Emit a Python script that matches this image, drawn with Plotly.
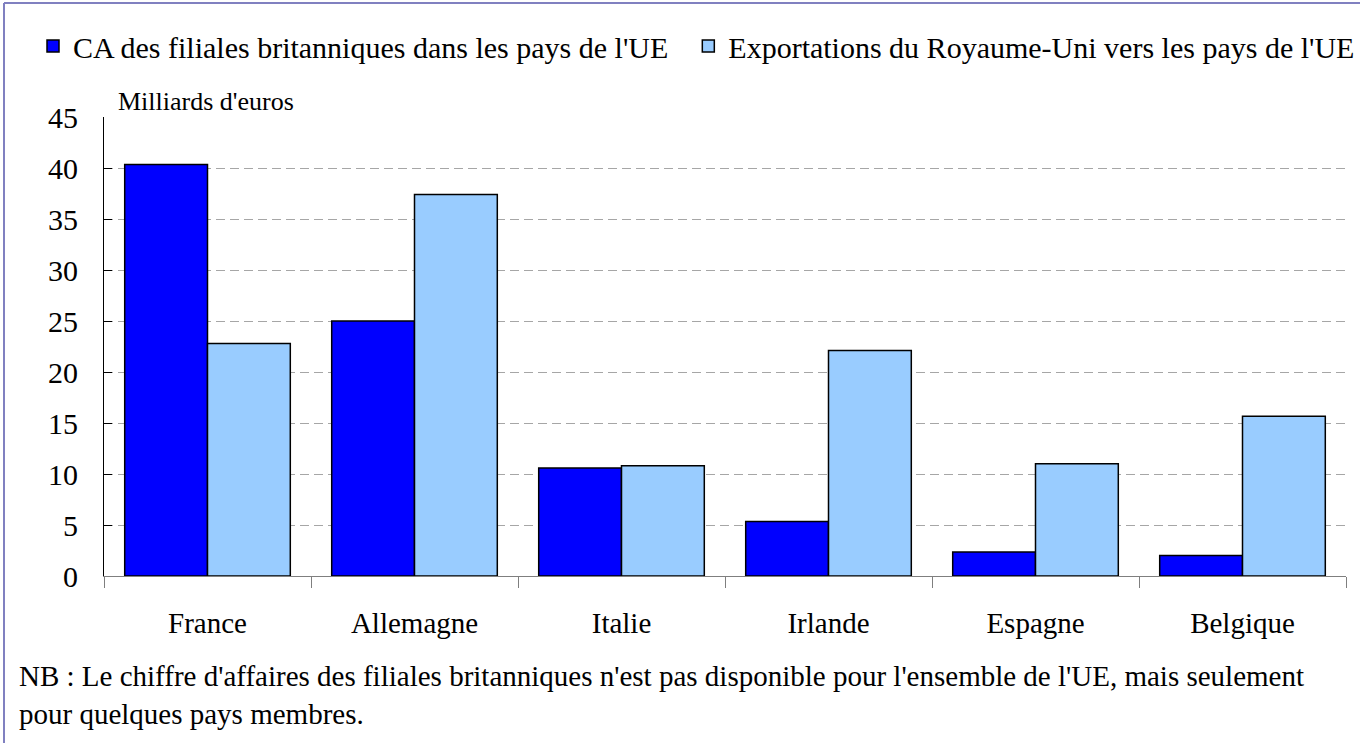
import plotly.graph_objects as go

pays = ['France', 'Allemagne', 'Italie', 'Irlande', 'Espagne', 'Belgique']
ca_filiales = [40.35, 25.0, 10.6, 5.35, 2.35, 2.0]
exportations = [22.8, 37.4, 10.8, 22.1, 11.0, 15.65]

W, H = 1360, 743
ML, MR, MT, MB = 104, 14, 117, 167
PW, PH = W - ML - MR, H - MT - MB

def px_x(x):
    return (x - ML) / PW

def px_y(y):
    return (H - MB - y) / PH

FONT = 'Liberation Serif, Times New Roman, serif'

fig = go.Figure()
fig.add_trace(go.Bar(x=pays, y=ca_filiales, name="CA des filiales britanniques dans les pays de l'UE\u00a0\u00a0",
                     marker=dict(color='#0000FF', line=dict(color='black', width=1.5))))
fig.add_trace(go.Bar(x=pays, y=exportations, name="Exportations du Royaume-Uni vers les pays de l'UE",
                     marker=dict(color='#99CCFF', line=dict(color='black', width=1.5))))

fig.update_layout(
    width=W, height=H,
    margin=dict(l=ML, r=MR, t=MT, b=MB, autoexpand=False),
    paper_bgcolor='white', plot_bgcolor='white',
    font=dict(family=FONT, size=29, color='black'),
    barmode='group', bargap=0.2, bargroupgap=0,
    showlegend=True,
    legend=dict(orientation='h', x=px_x(33), xanchor='left', y=px_y(46), yanchor='middle',
                font=dict(size=30), bgcolor='rgba(0,0,0,0)'),
)

fig.update_xaxes(showline=True, linecolor='#7f7f7f', linewidth=1, automargin=False,
                 ticks='outside', ticklen=11, tickcolor='#7f7f7f', tickson='boundaries',
                 ticklabelstandoff=21, showgrid=False)
fig.update_yaxes(range=[0, 45], dtick=5, showline=True, linecolor='black', linewidth=1,
                 automargin=False, tickfont=dict(size=30),
                 ticks='inside', ticklen=8, tickcolor='black', ticklabelstandoff=19,
                 showgrid=True, gridcolor='#A6A6A6', gridwidth=1, griddash='9px,5px',
                 zeroline=False)

fig.add_annotation(text="Milliards d'euros", xref='paper', yref='paper', x=px_x(116), y=px_y(102),
                   xanchor='left', yanchor='middle', showarrow=False, font=dict(size=26))
fig.add_annotation(text="NB : Le chiffre d'affaires des filiales britanniques n'est pas disponible pour l'ensemble de l'UE, mais seulement",
                   xref='paper', yref='paper', x=px_x(17), y=px_y(676),
                   xanchor='left', yanchor='middle', showarrow=False, font=dict(size=29))
fig.add_annotation(text="pour quelques pays membres.",
                   xref='paper', yref='paper', x=px_x(17), y=px_y(714),
                   xanchor='left', yanchor='middle', showarrow=False, font=dict(size=29))

# cadre (bord gauche et haut)
frame = dict(color='#8080C0', width=2)
fig.add_shape(type='line', xref='paper', yref='paper', x0=px_x(4), x1=px_x(4), y0=px_y(3), y1=px_y(760), line=frame)
fig.add_shape(type='line', xref='paper', yref='paper', x0=px_x(4), x1=px_x(1380), y0=px_y(3), y1=px_y(3), line=frame)

# la page ne doit pas décaler la figure
fig.write_html("out.html", config={'displayModeBar': False},
               post_script="document.body.style.margin='0';")
